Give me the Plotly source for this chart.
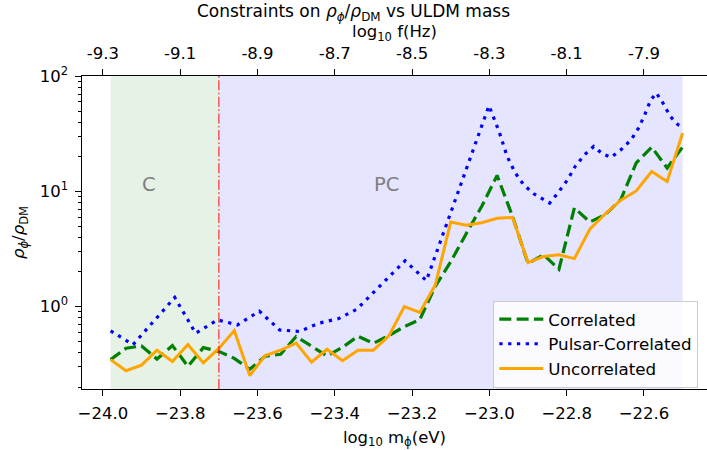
import numpy as np
import plotly.graph_objects as go

# ---------------- data ----------------
mass_log = [-23.98 + 0.04 * k for k in range(38)]  # log10 m_phi (eV) grid

correlated = [0.346, 0.435, 0.455, 0.350, 0.458, 0.303, 0.440, 0.408, 0.355, 0.285,
              0.370, 0.385, 0.550, 0.450, 0.372, 0.443, 0.552, 0.480, 0.560, 0.670,
              0.770, 1.50, 2.45, 4.30, 7.40, 13.8, 6.06, 2.37, 2.82, 2.11,
              7.20, 5.42, 6.30, 8.50, 17.7, 24.3, 16.0, 24.3]

uncorrelated = [0.346, 0.277, 0.310, 0.418, 0.333, 0.469, 0.324, 0.433, 0.618, 0.252,
                0.376, 0.419, 0.481, 0.329, 0.426, 0.339, 0.418, 0.418, 0.556, 1.00,
                0.890, 1.54, 5.42, 5.10, 5.35, 5.85, 5.95, 2.41, 2.72, 2.82,
                2.61, 4.71, 6.40, 8.40, 10.1, 14.9, 12.2, 32.2]

pulsar_mass_log = [-23.980, -23.922, -23.814, -23.760, -23.703, -23.652, -23.595, -23.543,
                   -23.491, -23.441, -23.390, -23.343, -23.293, -23.243, -23.218, -23.163,
                   -23.001, -22.975, -22.954, -22.933, -22.911, -22.885, -22.857, -22.844,
                   -22.823, -22.798, -22.777, -22.754, -22.730, -22.708, -22.685, -22.659,
                   -22.633, -22.614, -22.598, -22.583, -22.568, -22.551, -22.532, -22.512,
                   -22.499]
pulsar_correlated = [0.615, 0.467, 1.20, 0.587, 0.766, 0.693, 0.912, 0.627,
                     0.607, 0.718, 0.787, 0.949, 1.40, 2.08, 2.50, 1.68,
                     55.6, 33.2, 20.1, 14.5, 11.4, 9.55, 8.47, 7.93,
                     9.68, 12.6, 16.7, 20.8, 24.6, 21.3, 19.8, 23.1,
                     28.2, 35.6, 46.4, 61.8, 71.8, 58.7, 44.9, 38.0,
                     36.7]

freq_offset = 14.7  # log10 f(Hz) = log10 m(eV) + offset
bottom_ticks = [-24.0, -23.8, -23.6, -23.4, -23.2, -23.0, -22.8, -22.6]
top_ticks = [-9.3, -9.1, -8.9, -8.7, -8.5, -8.3, -8.1, -7.9]
top_tick_labels = ["-9.3", "-9.1", "-8.9", "-8.7", "-8.5", "-8.3", "-8.1", "-7.9"]
y_major = [1, 10, 100]
y_major_labels = ["10<sup>0</sup>", "10<sup>1</sup>", "10<sup>2</sup>"]
y_minor = [m * d for d in (0.1, 1, 10) for m in range(2, 10)]

region_c = [-23.98, -23.7]
region_pc = [-23.7, -22.5]
boundary = -23.7

# ---------------- layout geometry ----------------
W, H = 707, 450
L, R, T, B = 82, 0, 76, 61
x_range = [-24.054, -24.054 + (W - L - R) / 386.5]
y_range = [-0.716, 2.003]

FONT = "DejaVu Sans"
FS = 16.5
fig = go.Figure()

fig.add_trace(go.Scatter(x=mass_log, y=correlated, mode="lines", name="Correlated",
                         line=dict(color="green", width=3.2, dash="12px,5.3px")))
fig.add_trace(go.Scatter(x=pulsar_mass_log, y=pulsar_correlated, mode="lines",
                         name="Pulsar-Correlated",
                         line=dict(color="blue", width=3.2, dash="3.3px,5.5px")))
fig.add_trace(go.Scatter(x=mass_log, y=uncorrelated, mode="lines", name="Uncorrelated",
                         line=dict(color="orange", width=3.0)))
# invisible trace to anchor the top (frequency) axis
fig.add_trace(go.Scatter(x=[m + freq_offset for m in mass_log], y=correlated,
                         xaxis="x2", yaxis="y", mode="lines", showlegend=False,
                         hoverinfo="skip", line=dict(color="rgba(0,0,0,0)", width=0)))

fig.add_shape(type="rect", xref="x", yref="paper", x0=region_c[0], x1=region_c[1],
              y0=0, y1=1, fillcolor="rgba(0,128,0,0.1)", line_width=0, layer="below")
fig.add_shape(type="rect", xref="x", yref="paper", x0=region_pc[0], x1=region_pc[1],
              y0=0, y1=1, fillcolor="rgba(0,0,255,0.1)", line_width=0, layer="below")
fig.add_shape(type="line", xref="x", yref="paper", x0=boundary, x1=boundary, y0=0, y1=1,
              line=dict(color="rgba(255,0,0,0.6)", width=1.6, dash="10px,2.5px,1.6px,2.5px"))

fig.add_annotation(x=-23.881, y=np.log10(11.4), xref="x", yref="y", text="C",
                   showarrow=False, font=dict(family=FONT, size=19.5, color="gray"))
fig.add_annotation(x=-23.267, y=np.log10(11.4), xref="x", yref="y", text="PC",
                   showarrow=False, font=dict(family=FONT, size=19.5, color="gray"))

axis_common = dict(showline=True, linecolor="black", linewidth=1.3, ticks="outside",
                   ticklen=5.5, tickwidth=1.2, tickcolor="black", showgrid=False,
                   zeroline=False, automargin=False, ticklabelstandoff=4,
                   tickfont=dict(family=FONT, size=FS, color="black"))

fig.update_layout(
    width=W, height=H,
    margin=dict(l=L, r=R, t=T, b=B),
    plot_bgcolor="white", paper_bgcolor="white",
    font=dict(family=FONT, size=FS, color="black"),
    title=dict(text="Constraints on <i>ρ</i><sub><i>ϕ</i></sub>/<i>ρ</i><sub>DM</sub> vs ULDM mass",
               x=0.5, xanchor="center", xref="container", y=1 - 11 / H, yanchor="middle",
               font=dict(family=FONT, size=17, color="black")),
    xaxis=dict(range=x_range, tickmode="array", tickvals=bottom_ticks, tickformat=".1f",
               title=dict(text="log<sub>10</sub> m<sub>ϕ</sub>(eV)", standoff=8,
                          font=dict(family=FONT, size=FS)),
               mirror=False, **axis_common),
    xaxis2=dict(range=[x_range[0] + freq_offset, x_range[1] + freq_offset],
                overlaying="x", side="top", anchor="y", tickmode="array",
                tickvals=top_ticks, ticktext=top_tick_labels,
                title=dict(text="log<sub>10</sub> f(Hz)", standoff=0,
                           font=dict(family=FONT, size=FS)),
                **axis_common),
    yaxis=dict(type="log", range=y_range, tickmode="array", tickvals=y_major,
               ticktext=y_major_labels,
               minor=dict(tickmode="array", tickvals=y_minor, ticks="outside", ticklen=3.3,
                          tickwidth=1.0, tickcolor="black"),
               title=dict(text="<i>ρ</i><sub><i>ϕ</i></sub>/<i>ρ</i><sub>DM</sub>",
                          standoff=10, font=dict(family=FONT, size=FS)),
               **axis_common),
    legend=dict(x=(493.3 - L) / (W - L - R), y=(H - B - 300.7) / (H - T - B),
                xanchor="left", yanchor="top", bgcolor="rgba(255,255,255,0.8)",
                bordercolor="#cccccc", borderwidth=1, itemwidth=44,
                font=dict(family=FONT, size=16.7, color="black")),
    showlegend=True,
)

fig.write_html("out.html", config={"displayModeBar": False},
               post_script="document.body.style.margin='0';")
